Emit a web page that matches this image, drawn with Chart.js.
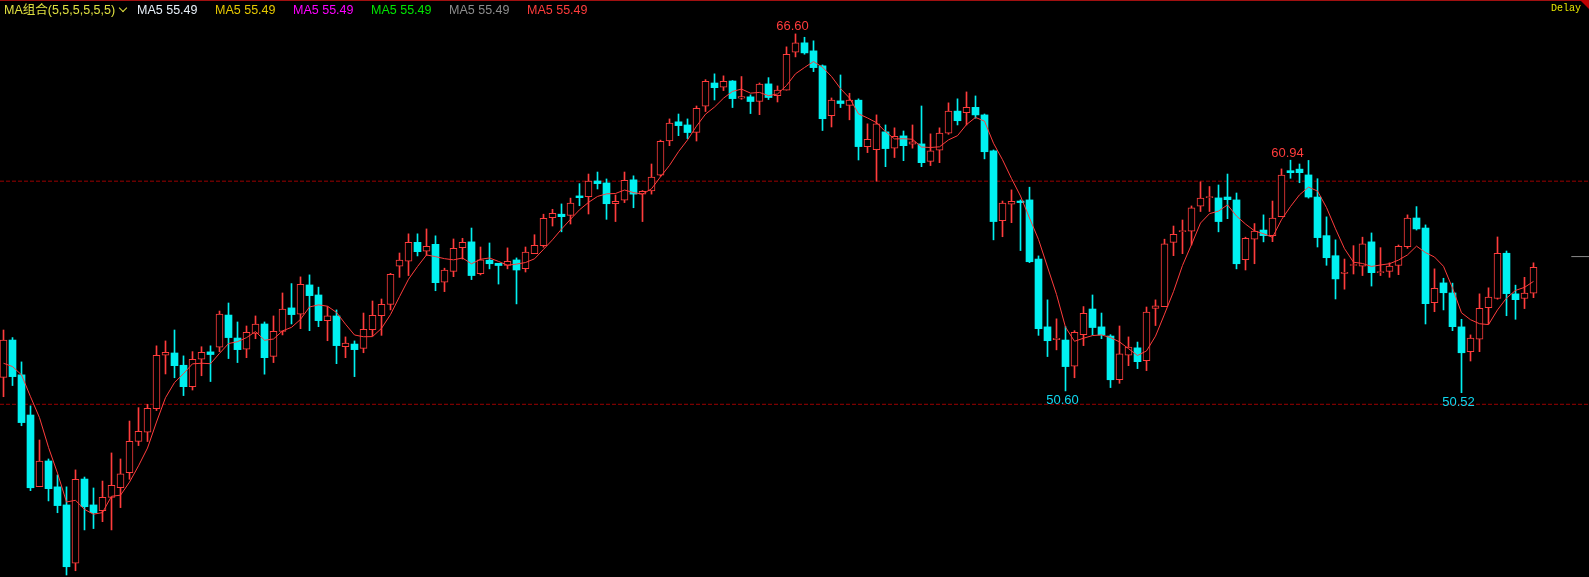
<!DOCTYPE html>
<html>
<head>
<meta charset="utf-8">
<script src="https://cdn.jsdelivr.net/npm/chart.js@4.4.1/dist/chart.umd.min.js"></script>
<style>
  html, body { margin: 0; padding: 0; background: #000; }
  #wrap { position: relative; width: 1589px; height: 577px; overflow: hidden; background: #000; }
  #wrap canvas { position: absolute; left: 0; top: 0; }
  .topline { position: absolute; left: 0; top: 0; width: 1589px; height: 1px; background: #a01010; }
  .corner { position: absolute; right: 0; top: 0; width: 0; height: 0; border-top: 9px solid #c00000; border-left: 9px solid transparent; }
  .legend { position: absolute; top: 1px; font: 12.5px "Liberation Sans", "Noto Sans CJK SC", sans-serif; line-height: 18px; white-space: nowrap; }
  .chev { position: absolute; left: 120px; top: 5px; width: 5px; height: 5px; border-right: 1.5px solid #e0e040; border-bottom: 1.5px solid #e0e040; transform: rotate(45deg); }
  .delay { position: absolute; top: 3px; left: 1551px; font: 10px "Liberation Mono", monospace; color: #e6e600; }
</style>
</head>
<body>
<div id="wrap">
  <canvas id="kline" width="1589" height="577"></canvas>
  <div class="topline"></div>
  <div class="corner"></div>
  <div id="legend"></div>
  <div class="delay">Delay</div>
</div>
<script>
// daily candles
const opens = [
  51.21, 52.88, 51.32, 49.52, 46.31, 47.46, 46.30, 45.49, 42.88, 46.65,
  45.49, 45.23, 45.83, 46.26, 46.94, 48.34, 48.75, 49.80, 52.20, 52.30,
  51.75, 50.79, 52.02, 52.35, 52.56, 54.00, 52.97, 52.47, 53.18, 53.60,
  52.15, 53.27, 54.32, 54.04, 55.35, 54.90, 53.75, 53.96, 52.58, 52.70,
  52.51, 53.35, 53.97, 54.48, 56.19, 56.41, 57.26, 56.86, 57.17, 55.47,
  55.96, 57.02, 57.28, 55.86, 56.46, 56.32, 56.23, 56.47, 56.08, 56.75,
  57.11, 58.37, 58.52, 58.46, 59.34, 59.31, 60.01, 59.92, 58.99, 59.15,
  60.06, 59.42, 59.56, 60.27, 61.80, 62.66, 62.52, 62.19, 63.36, 64.40,
  64.21, 64.49, 63.72, 63.78, 63.58, 64.36, 63.83, 64.08, 65.78, 66.20,
  65.84, 65.17, 62.94, 63.60, 63.40, 63.63, 61.55, 61.41, 62.21, 61.48,
  62.03, 61.66, 61.67, 60.89, 61.39, 62.15, 63.14, 63.07, 63.31, 62.97,
  61.36, 58.23, 58.97, 59.11, 59.16, 56.51, 53.47, 52.90, 52.88, 51.71,
  53.12, 54.27, 53.47, 53.06, 51.10, 52.20, 52.53, 51.96, 54.30, 54.38,
  57.26, 57.74, 57.76, 58.88, 59.26, 59.25, 59.29, 59.16, 56.48, 57.40,
  57.81, 57.56, 58.41, 60.47, 60.54, 60.28, 59.29, 57.56, 56.66, 55.87,
  56.22, 56.19, 57.28, 55.90, 55.96, 56.22, 57.07, 58.35, 57.90, 54.56,
  55.44, 54.99, 53.47, 52.36, 52.92, 54.33, 54.74, 56.77, 54.95, 54.74,
  54.98
];
const highs = [
  53.33, 52.99, 51.90, 49.93, 48.40, 47.55, 46.83, 46.30, 47.06, 46.74,
  46.25, 46.56, 47.82, 47.55, 49.25, 49.85, 50.00, 52.62, 52.84, 53.33,
  52.17, 52.36, 52.58, 52.62, 54.18, 54.54, 53.69, 53.51, 53.96, 53.69,
  53.96, 54.99, 55.41, 55.71, 55.80, 55.25, 54.38, 54.23, 53.02, 52.84,
  54.09, 54.63, 54.72, 55.87, 56.78, 57.64, 57.64, 57.86, 57.55, 56.10,
  57.41, 57.44, 57.90, 57.05, 57.23, 56.32, 57.01, 56.56, 57.05, 57.60,
  58.52, 58.74, 58.98, 59.24, 59.89, 60.32, 60.41, 60.10, 59.38, 60.41,
  60.24, 59.58, 60.77, 61.84, 62.79, 63.01, 62.79, 63.37, 64.55, 64.81,
  64.72, 64.51, 64.69, 63.87, 64.40, 64.64, 64.27, 66.02, 66.60, 66.45,
  66.29, 65.21, 63.73, 64.76, 63.94, 63.69, 62.57, 62.97, 62.52, 62.39,
  62.25, 62.52, 63.37, 62.12, 62.39, 63.51, 63.69, 64.00, 63.82, 63.01,
  61.40, 59.11, 59.61, 59.16, 59.73, 56.65, 54.68, 53.83, 53.48, 53.30,
  54.38, 54.90, 54.09, 53.12, 53.51, 53.02, 52.79, 54.36, 54.68, 57.40,
  57.99, 58.26, 58.89, 59.97, 59.76, 59.83, 60.32, 59.47, 57.49, 58.10,
  58.49, 59.11, 60.55, 60.94, 60.77, 60.93, 60.11, 58.40, 57.37, 56.51,
  57.11, 57.49, 57.68, 57.02, 56.34, 57.14, 58.49, 58.86, 58.04, 56.07,
  55.65, 55.43, 53.81, 53.11, 54.95, 55.22, 57.50, 56.87, 55.34, 55.69,
  56.34
];
const lows = [
  50.34, 50.84, 49.04, 46.13, 46.31, 45.67, 45.14, 42.35, 42.54, 44.37,
  44.43, 44.74, 44.37, 45.37, 46.64, 48.15, 48.33, 49.72, 51.36, 51.19,
  50.39, 50.64, 51.28, 51.02, 52.36, 52.05, 51.87, 52.09, 52.94, 51.35,
  51.87, 53.11, 53.60, 53.39, 53.30, 53.48, 52.85, 51.82, 52.09, 51.24,
  52.31, 53.06, 53.09, 54.23, 55.69, 55.77, 56.65, 56.68, 55.09, 55.05,
  55.72, 56.51, 55.59, 55.80, 56.07, 55.39, 56.07, 54.50, 55.93, 56.75,
  57.04, 57.99, 57.73, 58.08, 58.90, 58.53, 59.65, 58.29, 58.19, 59.04,
  58.81, 58.19, 59.42, 60.22, 61.59, 62.04, 61.91, 61.80, 63.12, 63.64,
  64.06, 63.30, 63.67, 63.03, 62.98, 63.66, 63.55, 64.08, 65.57, 65.69,
  64.91, 62.27, 62.43, 63.30, 62.75, 60.95, 61.28, 60.00, 60.65, 61.06,
  60.92, 61.48, 60.65, 60.70, 60.83, 62.10, 62.52, 62.52, 62.82, 61.00,
  57.37, 57.51, 58.14, 56.89, 56.35, 53.09, 52.14, 52.44, 50.60, 51.19,
  52.63, 53.11, 52.94, 50.75, 50.94, 51.73, 51.60, 51.51, 53.53, 54.38,
  56.66, 56.75, 57.14, 58.64, 58.64, 57.73, 58.32, 56.07, 56.02, 56.30,
  57.28, 57.29, 58.41, 60.13, 59.93, 59.24, 57.05, 56.23, 54.72, 55.16,
  55.84, 55.77, 55.30, 55.77, 55.69, 55.81, 56.99, 57.81, 53.60, 54.15,
  54.23, 53.30, 50.52, 51.94, 52.36, 53.60, 54.71, 53.97, 53.81, 54.29,
  54.78
];
const closes = [
  52.88, 51.24, 49.18, 46.26, 47.45, 46.22, 45.46, 42.72, 46.64, 45.41,
  45.14, 45.83, 46.37, 46.88, 48.34, 48.79, 49.82, 52.20, 52.33, 51.73,
  50.79, 52.02, 52.33, 52.23, 54.04, 52.99, 52.45, 53.23, 53.59, 52.09,
  53.27, 54.27, 54.02, 55.38, 54.87, 53.75, 53.96, 52.63, 52.74, 52.45,
  53.36, 53.99, 54.48, 55.83, 56.46, 57.26, 56.84, 57.08, 55.45, 56.01,
  56.99, 57.26, 55.77, 56.47, 56.30, 56.22, 56.41, 56.02, 56.82, 57.13,
  58.34, 58.56, 58.41, 59.02, 59.26, 60.00, 59.89, 58.99, 59.10, 60.04,
  59.42, 59.55, 60.18, 61.79, 62.60, 62.49, 62.18, 63.27, 64.48, 64.19,
  64.48, 63.70, 63.79, 63.57, 64.35, 63.75, 64.08, 65.69, 66.20, 65.75,
  65.09, 62.80, 63.63, 63.48, 63.63, 61.55, 61.88, 62.57, 61.46, 62.01,
  61.59, 61.76, 60.83, 61.36, 62.16, 63.14, 62.71, 63.31, 62.97, 61.32,
  58.19, 59.02, 59.10, 59.04, 56.39, 53.39, 52.85, 52.96, 51.69, 53.23,
  54.08, 53.44, 53.11, 51.10, 52.26, 52.56, 51.91, 54.13, 54.41, 57.19,
  57.62, 57.77, 58.80, 59.24, 59.29, 58.19, 59.17, 56.30, 57.44, 57.76,
  57.56, 58.35, 60.27, 60.38, 60.38, 59.29, 57.47, 56.57, 55.62, 55.92,
  56.26, 57.19, 55.90, 55.95, 56.20, 57.08, 58.35, 57.86, 54.51, 55.20,
  55.00, 53.48, 52.31, 52.97, 54.30, 54.80, 56.77, 54.96, 54.69, 54.98,
  56.14
];
// MA5 for the first four days (their earlier closes are off screen)
const maHead = [51.84, 51.69, 51.32, 50.34];

const refLevels = [60, 50];
const lastMark = 56.62;

// extremes the software marks with their price
const marks = [
  { i: 88, type: 'high' },
  { i: 143, type: 'high' },
  { i: 118, type: 'low' },
  { i: 162, type: 'low' }
];

const legendTitle = 'MA组合(5,5,5,5,5,5)';
const legendItems = ['MA5 55.49', 'MA5 55.49', 'MA5 55.49', 'MA5 55.49', 'MA5 55.49', 'MA5 55.49'];
const legendColors = ['#e8f0f8', '#e6c800', '#ff00ff', '#00e600', '#8c8c8c', '#ff3c3c'];

const RED = '#ff3c3c';
const CYAN = '#00f0f0';

// legend row
const legendBox = document.getElementById('legend');
legendBox.innerHTML =
  `<div class="legend" style="left:4px;color:#e0e040">${legendTitle}</div><div class="chev"></div>` +
  legendItems.map((t, k) => `<div class="legend" style="left:${137 + 78 * k}px;color:${legendColors[k]}">${t}</div>`).join('');

const idx = closes.map((_, i) => i);
const up = i => closes[i] >= opens[i];
const ma5 = idx.map(i => i < 4 ? maHead[i] : closes.slice(i - 4, i + 1).reduce((a, b) => a + b, 0) / 5);

const xMin = -3.5 / 9;
const xMax = xMin + 1589 / 9;

const extremeLabels = {
  id: 'extremeLabels',
  afterDatasetsDraw(chart) {
    const { ctx, scales: { x, y } } = chart;
    ctx.save();
    ctx.font = '13px "Liberation Sans", sans-serif';
    ctx.textAlign = 'center';
    ctx.textBaseline = 'middle';
    marks.forEach(m => {
      const isHigh = m.type === 'high';
      const v = isHigh ? highs[m.i] : lows[m.i];
      ctx.fillStyle = isHigh ? RED : '#10d8f0';
      ctx.fillText(v.toFixed(2), x.getPixelForValue(m.i) - 3, y.getPixelForValue(v) + (isHigh ? -7 : 10));
    });
    ctx.restore();
  }
};

new Chart(document.getElementById('kline').getContext('2d'), {
  type: 'bar',
  data: {
    datasets: [
      {
        type: 'line',
        data: idx.map(i => ({ x: i, y: ma5[i] })),
        borderColor: RED,
        borderWidth: 1,
        pointRadius: 0,
        tension: 0,
        order: 0
      },
      {
        data: idx.map(i => ({ x: i, y: [opens[i], closes[i]] })),
        backgroundColor: idx.map(i => up(i) ? '#000000' : CYAN),
        borderColor: idx.map(i => up(i) ? RED : CYAN),
        borderWidth: idx.map(i => up(i) ? 1 : 0),
        borderSkipped: false,
        barThickness: 7,
        minBarLength: 1,
        grouped: false,
        order: 1
      },
      {
        data: idx.map(i => ({ x: i, y: [lows[i], highs[i]] })),
        backgroundColor: idx.map(i => up(i) ? RED : CYAN),
        borderWidth: 0,
        barThickness: 1,
        grouped: false,
        order: 2
      },
      ...refLevels.map(v => ({
        type: 'line',
        data: [{ x: xMin, y: v }, { x: xMax, y: v }],
        borderColor: '#9a0000',
        borderWidth: 1,
        borderDash: [4, 2],
        pointRadius: 0,
        order: 5
      })),
      {
        type: 'line',
        data: [{ x: 174.2, y: lastMark }, { x: xMax, y: lastMark }],
        borderColor: '#8a8a8a',
        borderWidth: 1,
        pointRadius: 0,
        order: 4
      }
    ]
  },
  options: {
    responsive: false,
    animation: false,
    events: [],
    layout: { padding: 0 },
    plugins: { legend: { display: false }, tooltip: { enabled: false } },
    scales: {
      x: { type: 'linear', display: false, offset: false, min: xMin, max: xMax },
      y: { type: 'linear', display: false, min: 42.26, max: 68.12 }
    }
  },
  plugins: [extremeLabels]
});
</script>
</body>
</html>
